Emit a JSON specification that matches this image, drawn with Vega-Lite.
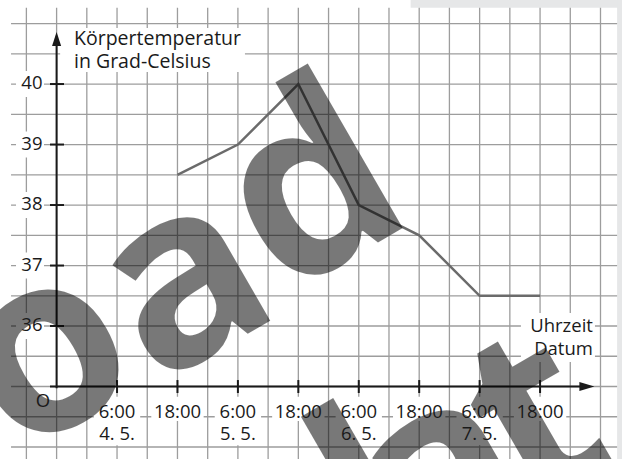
{
  "$schema": "https://vega.github.io/schema/vega-lite/v6.json",
  "width": 622,
  "height": 459,
  "padding": 0,
  "autosize": {"type": "none"},
  "background": "white",
  "config": {"view": {"stroke": null}},
  "datasets": {
    "gray": [
      {"h": 70.3, "h2": 115, "t": 41.26, "t2": 41.6},
      {"h": 111.3, "h2": 115, "t": 33, "t2": 41.6}
    ],
    "vgrid": [
      {"h": -6, "t": 41.26, "t2": 33.5}, {"h": 0, "t": 41.26, "t2": 33.5}, {"h": 6, "t": 41.26, "t2": 33.5},
      {"h": 12, "t": 41.26, "t2": 33.5}, {"h": 18, "t": 41.26, "t2": 33.5}, {"h": 24, "t": 41.26, "t2": 33.5},
      {"h": 30, "t": 41.26, "t2": 33.5}, {"h": 36, "t": 41.26, "t2": 33.5}, {"h": 42, "t": 41.26, "t2": 33.5},
      {"h": 48, "t": 41.26, "t2": 33.5}, {"h": 54, "t": 41.26, "t2": 33.5}, {"h": 60, "t": 41.26, "t2": 33.5},
      {"h": 66, "t": 41.26, "t2": 33.5}, {"h": 72, "t": 41.26, "t2": 33.5}, {"h": 78, "t": 41.26, "t2": 33.5},
      {"h": 84, "t": 41.26, "t2": 33.5}, {"h": 90, "t": 41.26, "t2": 33.5}, {"h": 96, "t": 41.26, "t2": 33.5},
      {"h": 102, "t": 41.26, "t2": 33.5}, {"h": 108, "t": 41.26, "t2": 33.5}
    ],
    "hgrid": [
      {"t": 34, "h": -9.05, "h2": 111.3}, {"t": 34.5, "h": -9.05, "h2": 111.3}, {"t": 35, "h": -9.05, "h2": 111.3},
      {"t": 35.5, "h": -9.05, "h2": 111.3}, {"t": 36, "h": -9.05, "h2": 111.3}, {"t": 36.5, "h": -9.05, "h2": 111.3},
      {"t": 37, "h": -9.05, "h2": 111.3}, {"t": 37.5, "h": -9.05, "h2": 111.3}, {"t": 38, "h": -9.05, "h2": 111.3},
      {"t": 38.5, "h": -9.05, "h2": 111.3}, {"t": 39, "h": -9.05, "h2": 111.3}, {"t": 39.5, "h": -9.05, "h2": 111.3},
      {"t": 40, "h": -9.05, "h2": 111.3}, {"t": 40.5, "h": -9.05, "h2": 111.3}, {"t": 41, "h": -9.05, "h2": 111.3}
    ],
    "boxes": [
      {"h": 0.7, "h2": 37.4, "t": 40.926, "t2": 40.198},
      {"h": -8.06, "h2": -2.5, "t": 40.215, "t2": 39.785},
      {"h": -8.06, "h2": -2.5, "t": 39.215, "t2": 38.785},
      {"h": -8.06, "h2": -2.5, "t": 38.215, "t2": 37.785},
      {"h": -8.06, "h2": -2.5, "t": 37.215, "t2": 36.785},
      {"h": -8.06, "h2": -2.5, "t": 36.215, "t2": 35.785},
      {"h": 7.4, "h2": 16.6, "t": 34.83, "t2": 34.43},
      {"h": 18.8, "h2": 29.2, "t": 34.83, "t2": 34.43},
      {"h": 31.4, "h2": 40.6, "t": 34.83, "t2": 34.43},
      {"h": 42.8, "h2": 53.2, "t": 34.83, "t2": 34.43},
      {"h": 55.4, "h2": 64.6, "t": 34.83, "t2": 34.43},
      {"h": 66.8, "h2": 77.2, "t": 34.83, "t2": 34.43},
      {"h": 79.4, "h2": 88.6, "t": 34.83, "t2": 34.43},
      {"h": 90.8, "h2": 101.2, "t": 34.83, "t2": 34.43},
      {"h": 7.8, "h2": 16.2, "t": 34.43, "t2": 34.03},
      {"h": 31.8, "h2": 40.2, "t": 34.43, "t2": 34.03},
      {"h": 55.8, "h2": 64.2, "t": 34.43, "t2": 34.03},
      {"h": 79.8, "h2": 88.2, "t": 34.43, "t2": 34.03},
      {"h": 92.2, "h2": 106.9, "t": 36.215, "t2": 35.405},
      {"h": -4.7, "h2": -0.7, "t": 34.95, "t2": 34.54}
    ],
    "temp": [
      {"h": 24, "t": 38.5}, {"h": 36, "t": 39}, {"h": 48, "t": 40}, {"h": 60, "t": 38},
      {"h": 72, "t": 37.5}, {"h": 84, "t": 36.5}, {"h": 96, "t": 36.5}
    ],
    "yaxis": [{"h": 0, "t": 34.97, "t2": 40.8}],
    "xaxis": [{"t": 35, "h": -1.31, "h2": 105.5}],
    "yarrow": [{"h": 0, "t": 40.744}],
    "xarrow": [{"h": 105.3, "t": 35}],
    "yticks": [
      {"t": 36, "h": -1.31, "h2": 1.47}, {"t": 37, "h": -1.31, "h2": 1.47}, {"t": 38, "h": -1.31, "h2": 1.47},
      {"t": 39, "h": -1.31, "h2": 1.47}, {"t": 40, "h": -1.31, "h2": 1.47}
    ],
    "xticks": [
      {"h": 12, "t": 35.107, "t2": 34.893}, {"h": 24, "t": 35.107, "t2": 34.893}, {"h": 36, "t": 35.107, "t2": 34.893},
      {"h": 48, "t": 35.107, "t2": 34.893}, {"h": 60, "t": 35.107, "t2": 34.893}, {"h": 72, "t": 35.107, "t2": 34.893},
      {"h": 84, "t": 35.107, "t2": 34.893}, {"h": 96, "t": 35.107, "t2": 34.893}
    ],
    "rightText": [
      {"h": -2.8, "t": 39.917, "s": "40"}, {"h": -2.8, "t": 38.917, "s": "39"}, {"h": -2.8, "t": 37.917, "s": "38"},
      {"h": -2.8, "t": 36.917, "s": "37"}, {"h": -2.8, "t": 35.917, "s": "36"},
      {"h": 106.5, "t": 35.901, "s": "Uhrzeit"}, {"h": 106.5, "t": 35.521, "s": "Datum"}
    ],
    "centerText": [
      {"h": 12, "t": 34.479, "s": "6:00"}, {"h": 24, "t": 34.479, "s": "18:00"},
      {"h": 36, "t": 34.479, "s": "6:00"}, {"h": 48, "t": 34.479, "s": "18:00"},
      {"h": 60, "t": 34.479, "s": "6:00"}, {"h": 72, "t": 34.479, "s": "18:00"},
      {"h": 84, "t": 34.479, "s": "6:00"}, {"h": 96, "t": 34.479, "s": "18:00"},
      {"h": 12, "t": 34.116, "s": "4. 5."}, {"h": 36, "t": 34.116, "s": "5. 5."},
      {"h": 60, "t": 34.116, "s": "6. 5."}, {"h": 84, "t": 34.116, "s": "7. 5."},
      {"h": -2.7, "t": 34.661, "s": "O"}
    ],
    "leftText": [
      {"h": 3.46, "t": 40.645, "s": "Körpertemperatur"},
      {"h": 3.46, "t": 40.264, "s": "in Grad-Celsius"}
    ],
    "wm": [
      {"h": 5.24, "t": 34.446, "s": "o"},
      {"h": 32.65, "t": 35.62, "s": "a"},
      {"h": 58.46, "t": 37.124, "s": "d"},
      {"h": 70.57, "t": 31.934, "s": "l"},
      {"h": 84.27, "t": 32.43, "s": "a"},
      {"h": 102.95, "t": 33.322, "s": "t"}
    ]
  },
  "encoding": {
    "x": {"field": "h", "type": "quantitative", "scale": {"domain": [-11.24, 112.27], "nice": false, "zero": false}, "axis": null},
    "y": {"field": "t", "type": "quantitative", "scale": {"domain": [33.802, 41.389], "nice": false, "zero": false}, "axis": null}
  },
  "layer": [
    {"data": {"name": "gray"}, "mark": {"type": "rect", "fill": "#e6e7e8"},
     "encoding": {"x2": {"field": "h2"}, "y2": {"field": "t2"}}},
    {"data": {"name": "vgrid"}, "mark": {"type": "rule", "stroke": "#9d9d9d", "strokeWidth": 1.3},
     "encoding": {"y2": {"field": "t2"}}},
    {"data": {"name": "hgrid"}, "mark": {"type": "rule", "stroke": "#9d9d9d", "strokeWidth": 1.3},
     "encoding": {"x2": {"field": "h2"}}},
    {"data": {"name": "boxes"}, "mark": {"type": "rect", "fill": "white"},
     "encoding": {"x2": {"field": "h2"}, "y2": {"field": "t2"}}},
    {"data": {"name": "temp"}, "mark": {"type": "line", "stroke": "#6b6b6b", "strokeWidth": 2.5, "strokeJoin": "miter"}},
    {"data": {"name": "yaxis"}, "mark": {"type": "rule", "stroke": "#1a1a1a", "strokeWidth": 2},
     "encoding": {"y2": {"field": "t2"}}},
    {"data": {"name": "xaxis"}, "mark": {"type": "rule", "stroke": "#1a1a1a", "strokeWidth": 2},
     "encoding": {"x2": {"field": "h2"}}},
    {"data": {"name": "yticks"}, "mark": {"type": "rule", "stroke": "#1a1a1a", "strokeWidth": 2},
     "encoding": {"x2": {"field": "h2"}}},
    {"data": {"name": "xticks"}, "mark": {"type": "rule", "stroke": "#1a1a1a", "strokeWidth": 2},
     "encoding": {"y2": {"field": "t2"}}},
    {"data": {"name": "yarrow"}, "mark": {"type": "point", "shape": "M0,-1L0.65,1L-0.65,1Z", "size": 196, "filled": true, "fill": "#1a1a1a", "opacity": 1}},
    {"data": {"name": "xarrow"}, "mark": {"type": "point", "shape": "M1,0L-1,-0.6L-1,0.6Z", "size": 225, "filled": true, "fill": "#1a1a1a", "opacity": 1}},
    {"data": {"name": "wm"}, "mark": {"type": "text", "align": "center", "baseline": "alphabetic", "angle": -30, "font": "Open Sans", "fontWeight": "bold", "fontSize": 250, "fill": "black", "fillOpacity": 0.53},
     "encoding": {"text": {"field": "s"}}},
    {"data": {"name": "rightText"}, "mark": {"type": "text", "align": "right", "baseline": "alphabetic", "font": "Open Sans", "fontSize": 18.5, "fill": "#1a1a1a"},
     "encoding": {"text": {"field": "s"}}},
    {"data": {"name": "centerText"}, "mark": {"type": "text", "align": "center", "baseline": "alphabetic", "font": "Open Sans", "fontSize": 18.5, "fill": "#1a1a1a"},
     "encoding": {"text": {"field": "s"}}},
    {"data": {"name": "leftText"}, "mark": {"type": "text", "align": "left", "baseline": "alphabetic", "font": "Open Sans", "fontSize": 19.5, "fill": "#1a1a1a"},
     "encoding": {"text": {"field": "s"}}}
  ]
}
